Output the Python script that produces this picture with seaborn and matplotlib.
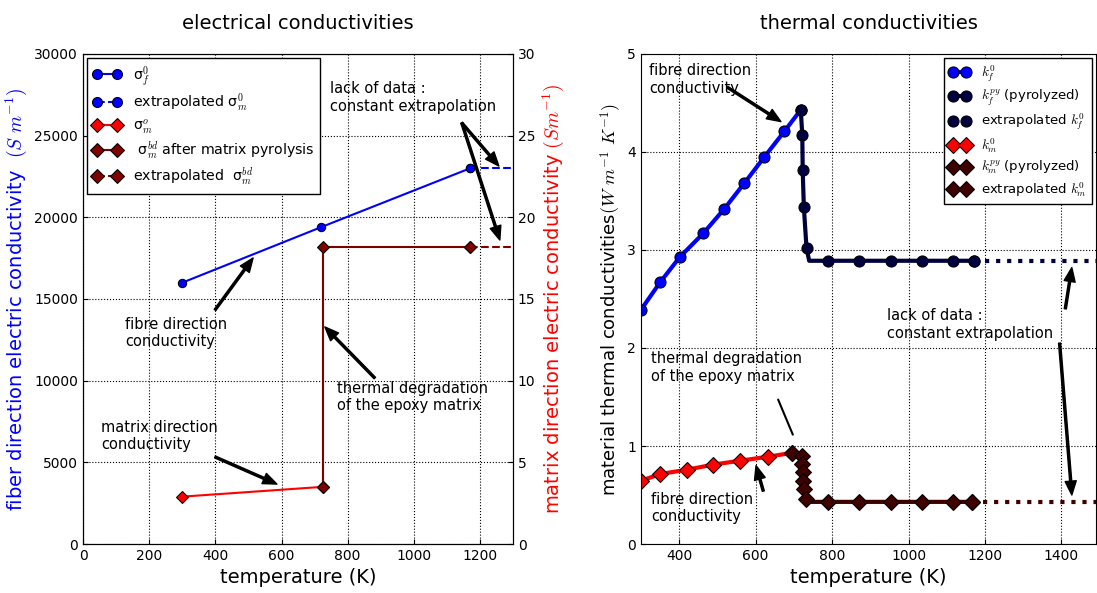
import matplotlib
matplotlib.use('Agg')
import matplotlib.pyplot as plt
import seaborn as sns

# electrical conductivities (left panel)
T_sf = [300, 720, 1170]
sig_f = [16000, 19400, 23000]
T_sf_ext = [1170, 1500]
sig_f_ext = [23000, 23000]
T_sm = [300, 725]
sig_m = [2.9, 3.5]
T_bd = [725, 725, 1170]
sig_bd = [3.5, 18.2, 18.2]
T_bd_ext = [1170, 1500]
sig_bd_ext = [18.2, 18.2]

# thermal conductivities (right panel)
T_kf = [300, 350, 402, 463, 518, 570, 623, 675, 718]
kf = [2.39, 2.67, 2.93, 3.17, 3.42, 3.68, 3.95, 4.21, 4.43]
T_kf_py = [718, 722, 723, 726, 733, 740, 790, 870, 955, 1035, 1115, 1170]
kf_py = [4.43, 4.17, 3.82, 3.44, 3.02, 2.89, 2.89, 2.89, 2.89, 2.89, 2.89, 2.89]
T_kf_ext = [1170, 1600]
kf_ext = [2.89, 2.89]
T_km = [300, 350, 420, 489, 559, 631, 695]
km = [0.645, 0.714, 0.758, 0.81, 0.85, 0.89, 0.93]
T_km_py = [695, 720, 722, 724, 725, 727, 731, 740, 790, 870, 955, 1035, 1115, 1165]
km_py = [0.93, 0.90, 0.82, 0.73, 0.645, 0.56, 0.46, 0.43, 0.43, 0.43, 0.43, 0.43, 0.43, 0.43]
T_km_ext = [1165, 1600]
km_ext = [0.43, 0.43]

sns.set_style('ticks', {'xtick.direction': 'in', 'ytick.direction': 'in',
                        'axes.grid': True, 'grid.linestyle': ':', 'grid.color': 'black',
                        'axes.edgecolor': 'black', 'text.color': 'black',
                        'axes.labelcolor': 'black', 'xtick.color': 'black',
                        'ytick.color': 'black'})
plt.rcParams['font.family'] = ['DejaVu Sans']
plt.rcParams['mathtext.fontset'] = 'cm'
plt.rcParams['grid.linewidth'] = 0.8

fig = plt.figure(figsize=(10.97, 5.93), dpi=100)
ax1 = fig.add_axes([0.0757, 0.0826, 0.392, 0.8264])
ax1b = ax1.twinx()
ax2 = fig.add_axes([0.5843, 0.0826, 0.4147, 0.8264])

darkred = '#800000'
navy = '#000040'
darkm = '#3f0000'

# ---- left
sns.lineplot(x=T_sf, y=sig_f, ax=ax1, color='blue', marker='o', markersize=6,
             markeredgecolor='black', lw=1.5, sort=False, estimator=None, label=r'σ$_f^0$')
sns.lineplot(x=T_sf_ext, y=sig_f_ext, ax=ax1, color='blue', marker='o', markersize=6,
             markeredgecolor='black', lw=1.5, linestyle='--', sort=False, estimator=None,
             label=r'extrapolated σ$_m^0$')
sns.lineplot(x=T_sm, y=sig_m, ax=ax1b, color='red', marker='D', markersize=6,
             markeredgecolor='black', lw=1.5, sort=False, estimator=None, label=r'σ$_m^o$')
sns.lineplot(x=T_bd, y=sig_bd, ax=ax1b, color=darkred, marker='D', markersize=6,
             markeredgecolor='black', lw=1.5, sort=False, estimator=None,
             label=r' σ$_m^{bd}$ after matrix pyrolysis')
sns.lineplot(x=T_bd_ext, y=sig_bd_ext, ax=ax1b, color=darkred, marker='D', markersize=6,
             markeredgecolor='black', lw=1.5, linestyle='--', sort=False, estimator=None,
             label=r'extrapolated  σ$_m^{bd}$')

ax1.set_xlim(0, 1300)
ax1.set_ylim(0, 30000)
ax1b.set_ylim(0, 30)
ax1.set_xticks(range(0, 1300, 200))
ax1.set_yticks(range(0, 30001, 5000))
ax1b.set_yticks(range(0, 31, 5))
ax1b.grid(False)
ax1.tick_params(labelsize=10)
ax1b.tick_params(labelsize=10)
ax1.set_xlabel('temperature (K)', fontsize=14)
ax1.set_ylabel(r'fiber direction electric conductivity  $(S\ m^{-1})$', fontsize=14, color='blue')
ax1b.set_ylabel(r'matrix direction electric conductivity $(S m^{-1})$', fontsize=14, color='red')
ax1.set_title('electrical conductivities', fontsize=14, pad=18)

h1, l1 = ax1.get_legend_handles_labels()
h2, l2 = ax1b.get_legend_handles_labels()
if ax1.get_legend():
    ax1.get_legend().remove()
ax1b.legend(h1 + h2, l1 + l2, loc='upper left', fontsize=10.2, numpoints=2,
            handlelength=2.0, fancybox=False, edgecolor='black', framealpha=1,
            borderaxespad=0.3, labelspacing=0.22, markerscale=1.2)

arrow = dict(facecolor='black', edgecolor='black', width=1.5, headwidth=8, headlength=10, shrink=0)
ax1.text(746, 27340, 'lack of data :\nconstant extrapolation', fontsize=10.5, va='center')
ax1.annotate('', xy=(1257, 23140), xytext=(1145, 25780), arrowprops=arrow)
ax1.annotate('', xy=(1260, 18610), xytext=(1145, 25780), arrowprops=arrow)
ax1.text(127, 12920, 'fibre direction\nconductivity', fontsize=10.5, va='center')
ax1.annotate('', xy=(514, 17510), xytext=(399, 14330), arrowprops=arrow)
ax1.text(54, 6610, 'matrix direction\nconductivity', fontsize=10.5, va='center')
ax1.annotate('', xy=(586, 3670), xytext=(399, 5330), arrowprops=arrow)
ax1.text(767, 9000, 'thermal degradation\nof the epoxy matrix', fontsize=10.5, va='center')
ax1.annotate('', xy=(731, 13290), xytext=(882, 10160), arrowprops=arrow)

# ---- right
sns.lineplot(x=T_kf, y=kf, ax=ax2, color='blue', marker='o', markersize=8,
             markeredgecolor='black', lw=3, sort=False, estimator=None, label=r'$k_f^0$')
sns.lineplot(x=T_kf_py, y=kf_py, ax=ax2, color=navy, marker='o', markersize=8,
             markeredgecolor='black', lw=3, sort=False, estimator=None,
             markevery=[0, 1, 2, 3, 4, 6, 7, 8, 9, 10, 11], label=r'$k_f^{py}$ (pyrolyzed)')
sns.lineplot(x=T_kf_ext, y=kf_ext, ax=ax2, color=navy, marker='o', markersize=8,
             markeredgecolor='black', lw=3, linestyle=':', sort=False, estimator=None,
             label=r'extrapolated $k_f^0$')
sns.lineplot(x=T_km, y=km, ax=ax2, color='red', marker='D', markersize=8,
             markeredgecolor='black', lw=3, sort=False, estimator=None, label=r'$k_m^0$')
sns.lineplot(x=T_km_py, y=km_py, ax=ax2, color=darkm, marker='D', markersize=8,
             markeredgecolor='black', lw=3, sort=False, estimator=None,
             markevery=[0, 1, 2, 3, 4, 5, 6, 8, 9, 10, 11, 12, 13], label=r'$k_m^{py}$ (pyrolyzed)')
sns.lineplot(x=T_km_ext, y=km_ext, ax=ax2, color=darkm, marker='D', markersize=8,
             markeredgecolor='black', lw=3, linestyle=':', sort=False, estimator=None,
             label=r'extrapolated $k_m^0$')

ax2.set_xlim(300, 1490)
ax2.set_ylim(0, 5)
ax2.set_xticks(range(400, 1500, 200))
ax2.set_yticks(range(0, 6))
ax2.tick_params(labelsize=10)
ax2.set_xlabel('temperature (K)', fontsize=14)
ax2.set_ylabel(r'material thermal conductivities$(W\ m^{-1}\ K^{-1})$', fontsize=13, labelpad=2)
ax2.set_title('thermal conductivities', fontsize=14, pad=18)
ax2.legend(loc='upper right', fontsize=9.5, numpoints=2, handlelength=1.6,
           fancybox=False, edgecolor='black', framealpha=1, borderaxespad=0.3,
           labelspacing=0.3)

ax2.text(322, 4.74, 'fibre direction\nconductivity', fontsize=10.5, va='center')
ax2.annotate('', xy=(666, 4.31), xytext=(526, 4.66), arrowprops=arrow)
ax2.text(327, 1.80, 'thermal degradation\nof the epoxy matrix', fontsize=10.5, va='center')
ax2.annotate('', xy=(700, 1.09), xytext=(656, 1.50), arrowprops=dict(arrowstyle='-', lw=1.5, color='black'))
ax2.text(327, 0.37, 'fibre direction\nconductivity', fontsize=10.5, va='center')
ax2.annotate('', xy=(601, 0.80), xytext=(620, 0.54), arrowprops=arrow)
ax2.text(944, 2.24, 'lack of data :\nconstant extrapolation', fontsize=10.5, va='center')
ax2.annotate('', xy=(1427, 2.82), xytext=(1410, 2.4), arrowprops=arrow)
ax2.annotate('', xy=(1427, 0.50), xytext=(1395, 2.05), arrowprops=arrow)

fig.savefig('out.png', dpi=100)
